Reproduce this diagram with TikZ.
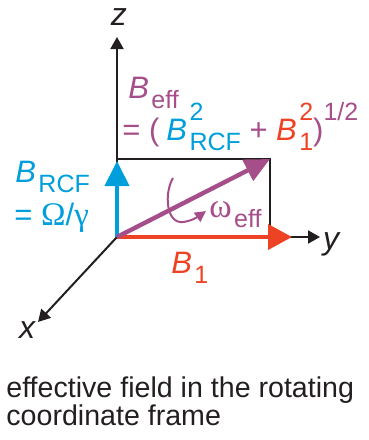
\documentclass[tikz,border=0pt]{standalone}
\usepackage{fontspec}
\setmainfont{Liberation Sans}
\newfontfamily\grk{Liberation Serif}
\usetikzlibrary{arrows.meta}
\definecolor{ink}{RGB}{35,31,32}
\definecolor{cblue}{RGB}{0,158,219}
\definecolor{cred}{RGB}{238,66,36}
\definecolor{cpurp}{RGB}{166,78,138}
\newcommand\smallfs{\fontsize{12.5}{12.5}\selectfont}
\newcommand\mysub[1]{\hspace{1.2pt}\raisebox{-5pt}{\smallfs #1}}
\newcommand\mysup[1]{\raisebox{10pt}{\smallfs #1}}
\newcommand\mysupsub[2]{\hspace{1.2pt}\makebox[0pt][l]{\mysup{#1}}\raisebox{-5pt}{\smallfs #2}}
\begin{document}
\begin{tikzpicture}[x=0.5pt,y=-0.5pt,
  axis/.style={draw=ink,line width=1pt,-{Triangle[length=6pt,width=6.5pt]}},
  frame/.style={draw=ink,line width=0.9pt},
  lbl/.style={inner sep=0pt,anchor=base west,font=\fontsize{15.5}{15.5}\selectfont},
  axlbl/.style={inner sep=0pt,anchor=base,text=ink,font=\fontsize{16}{16}\selectfont\itshape},
  captext/.style={inner sep=0pt,anchor=base west,text=ink,font=\fontsize{14.3}{14.3}\selectfont}]
\useasboundingbox (0,0) rectangle (369,440);
\coordinate (O) at (117,237);
\coordinate (ztip) at (117,37);
\coordinate (ytip) at (320,237);
\coordinate (xtip) at (38,322);
\coordinate (C) at (270,159);
\coordinate (Ctop) at (117,159);
\coordinate (Cbot) at (270,237);
\coordinate (btip) at (117,161);
\coordinate (rtip) at (292,237);
% axes
\draw[axis] (O) -- (ztip);
\draw[axis] (O) -- (ytip);
\draw[axis] (O) -- (xtip);
% frame
\draw[frame] (Ctop) -- (C) -- (Cbot);
% vectors
\draw[draw=cred,line width=2pt,-{Triangle[length=12pt,width=12.5pt]}] (O) -- (rtip);
\draw[draw=cblue,line width=2pt,-{Triangle[length=12.5pt,width=12pt]}] (O) -- (btip);
\draw[draw=cpurp,line width=2.2pt,-{Triangle[length=12.5pt,width=11.5pt]}] (O) -- (C);
% rotation
\coordinate (r0) at (173,178);
\coordinate (r1) at (206,211);
\draw[draw=cpurp,line width=1pt,-{Triangle[length=5.5pt,width=5.5pt]}] (r0) .. controls (164,193) and (166,224) .. (183,222) .. controls (192,221) and (199,216) .. (r1);
% labels
\node[axlbl] (zl) at (119,25) {z};
\node[axlbl] (yl) at (331,249) {y};
\node[axlbl] (xl) at (27,338) {x};
\node[lbl,text=cpurp] (beff) at (128,98) {\textit{B}\mysub{eff}};
\node[lbl,text=cpurp] (eq) at (122,140) {= (\hspace{3.5pt}\textcolor{cblue}{\textit{B}\mysupsub{2}{RCF}}\ + \textcolor{cred}{\textit{B}\mysupsub{2}{1}})\mysup{1/2}};
\node[lbl,text=cblue] (brcf) at (15,182) {\textit{B}\mysub{RCF}};
\node[lbl,text=cblue,text height=10pt] (omg) at (14,225) {= {\grk\fontsize{16.5}{16.5}\selectfont Ω}/{\grk\fontsize{16.5}{16.5}\selectfont γ}};
\node[lbl,text=cpurp] (weff) at (209,217) {{\grk\fontsize{17}{17}\selectfont ω}\mysub{eff}};
\node[lbl,text=cred] (b1) at (171,273) {\textit{B}\mysub{1}};
\node[captext] (cap1) at (6,397) {effective field in the rotating};
\node[captext] (cap2) at (6,425) {coordinate frame};
\end{tikzpicture}
\end{document}
